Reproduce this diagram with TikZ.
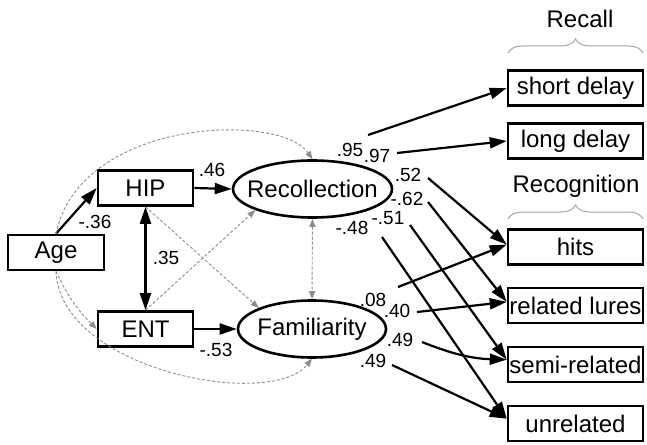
\documentclass[tikz,border=0pt]{standalone}
\usepackage{fontspec}
\setmainfont{Liberation Sans}
\usetikzlibrary{arrows.meta,shapes.geometric,decorations.pathreplacing}

\begin{document}
\begin{tikzpicture}[x = 0.5pt, y = -0.5pt,
  box/.style = {draw, line width = 1.3pt, rectangle, inner sep = 0pt, minimum height = 17.5pt, font = \fontsize{12}{14}\selectfont},
  latent/.style = {draw, line width = 1.3pt, ellipse, inner xsep = -6pt, inner ysep = 0pt, minimum height = 28.5pt, font = \fontsize{12}{14}\selectfont},
  effect/.style = {line width = 1.1pt, -{Triangle[length = 8.5pt, width = 5.5pt]}},
  corr/.style = {line width = 1.1pt, {Triangle[length = 8.5pt, width = 5.5pt]}-{Triangle[length = 8.5pt, width = 5.5pt]}},
  ns/.style = {gray!90, dash pattern = on 1.5pt off 1pt, line width = 0.45pt, -{Triangle[length = 4pt, width = 3pt]}},
  coef/.style = {font = \fontsize{9.5}{11}\selectfont, inner sep = 0pt},
  group/.style = {gray!70, line width = 0.5pt, decorate, decoration = {brace, amplitude = 7pt}}]
%\draw[very thin, color = gray](0, 0) grid [step = 50] (647, 444);
\useasboundingbox (0, 0) rectangle (647, 444);
\node [box, minimum width = 48pt] (age) at (56, 252.5) {Age};
\node [box, minimum width = 47.5pt] (hip) at (145.5, 188) {HIP};
\node [box, minimum width = 47.5pt] (ent) at (145.5, 329) {ENT};
\node [latent, minimum width = 79.5pt] (rec) at (312.5, 189) {Recollection};
\node [latent, minimum width = 74pt] (fam) at (312, 329) {Familiarity};
\node [box, minimum width = 67.5pt] (sd) at (575.5, 88) {short delay};
\node [box, minimum width = 67.5pt] (ld) at (575.5, 141) {long delay};
\node [box, minimum width = 67.5pt] (hits) at (575.5, 247) {hits};
\node [box, minimum width = 67.5pt] (rl) at (575.5, 305.5) {related lures};
\node [box, minimum width = 67.5pt] (sr) at (575.5, 364.5) {semi-related};
\node [box, minimum width = 67.5pt] (unr) at (575.5, 423.5) {unrelated};
\node [font = \fontsize{12}{14}\selectfont] (recall) at (580, 19) {Recall};
\node [font = \fontsize{12}{14}\selectfont] (recog) at (576, 186) {Recognition};
\draw [group] (508, 53) -- (643, 53);
\draw [group] (508, 219) -- (643, 219);
\draw [effect] (age.north) -- (hip.west);
\draw [effect] (hip.east) -- (rec.west);
\draw [effect] (ent.east) -- (fam.west);
\draw [corr] (hip.south) -- (ent.north);
\draw [ns] (age.north) .. controls (80, 118) and (280, 112) .. (rec.north);
\draw [ns] (age.south) to [bend right = 10] (ent.west);
\draw [ns] (age.south) .. controls (60, 370) and (270, 410) .. (fam.south);
\draw [ns] (hip.south) -- (fam.north west);
\draw [ns] (ent.north) -- (rec.south west);
\draw [ns, {Triangle[length = 4pt, width = 3pt]}-{Triangle[length = 4pt, width = 3pt]}] (rec.south) -- (fam.north);
\node [coef] (c1) at (95, 222) {-.36};
\node [coef] (c2) at (166, 258) {.35};
\node [coef] (c3) at (212, 170) {.46};
\node [coef] (c4) at (216, 350) {-.53};
\coordinate (rsd) at (368, 135);
\coordinate (rld) at (397, 153);
\coordinate (rhits) at (428, 178);
\coordinate (rrl) at (428, 202);
\coordinate (rsr) at (410, 225);
\coordinate (runr) at (382, 237);
\coordinate (fhits) at (398, 287);
\coordinate (frl) at (417, 312);
\coordinate (fsr) at (422, 342);
\coordinate (funr) at (392, 365);
\draw [effect] (rsd) -- (sd.west);
\draw [effect] (rld) -- (ld.west);
\draw [effect] (rhits) -- (hits.178);
\draw [effect] (rrl) -- (rl.177);
\draw [effect] (rsr) -- (sr.176);
\draw [effect] (runr) -- (unr.176);
\draw [effect] (fhits) -- (hits.178);
\draw [effect] (frl) -- (rl.177);
\draw [effect] (fsr) to [bend right = 10] (sr.176);
\draw [effect] (funr) -- (unr.176);
\node [coef] (c5) at (350, 150) {.95};
\node [coef] (c6) at (377, 156) {.97};
\node [coef] (c7) at (408, 175) {.52};
\node [coef] (c8) at (407, 199) {-.62};
\node [coef] (c9) at (388, 218) {-.51};
\node [coef] (c10) at (352, 228) {-.48};
\node [coef] (c11) at (373, 300) {.08};
\node [coef] (c12) at (397, 311) {.40};
\node [coef] (c13) at (400, 340) {.49};
\node [coef] (c14) at (373, 361) {.49};
\end{tikzpicture}
\end{document}
